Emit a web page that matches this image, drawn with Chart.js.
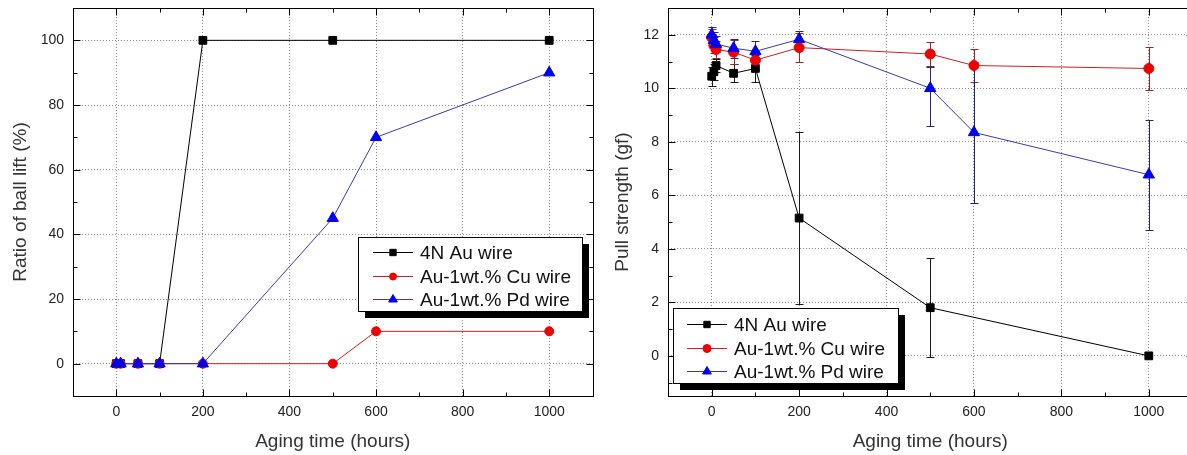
<!DOCTYPE html>
<html>
<head>
<meta charset="utf-8">
<script src="https://cdn.jsdelivr.net/npm/chart.js@4/dist/chart.umd.min.js"></script>
<style>
  body { margin: 0; background: #fff; width: 1187px; height: 455px; overflow: hidden; position: relative; }
  #ball_lift { position: absolute; left: 0; top: 0; }
  #pull_strength { position: absolute; left: 600px; top: 0; }
</style>
</head>
<body>
<canvas id="ball_lift" width="600" height="455"></canvas>
<canvas id="pull_strength" width="600" height="455"></canvas>
<script>
  // ---- data: ratio of ball lift (%) ----
  var seriesNames = ["4N Au wire", "Au-1wt.% Cu wire", "Au-1wt.% Pd wire"];

  var auLiftHours = [0, 10, 50, 100, 200, 500, 1000];
  var auLift      = [0, 0, 0, 0, 100, 100, 100];
  var cuLiftHours = [0, 10, 50, 100, 200, 500, 600, 1000];
  var cuLift      = [0, 0, 0, 0, 0, 0, 10, 10];
  var pdLiftHours = [0, 10, 50, 100, 200, 500, 600, 1000];
  var pdLift      = [0, 0, 0, 0, 0, 45, 70, 90];

  // ---- data: pull strength (gf) ----
  var auPullHours = [0, 5, 10, 50, 100, 200, 500, 1000];
  var auPull      = [10.45, 10.62, 10.85, 10.56, 10.74, 5.15, 1.8, 0];
  var auPullErr   = [0.35, 0.3, 0.25, 0.33, 0.5, 3.2, 1.85, 0];
  var cuPullHours = [0, 5, 10, 50, 100, 200, 500, 600, 1000];
  var cuPull      = [11.9, 11.6, 11.45, 11.35, 11.05, 11.52, 11.28, 10.85, 10.74];
  var cuPullErr   = [0.3, 0.3, 0.3, 0.45, 0.35, 0.55, 0.45, 0.62, 0.82];
  var pdPullHours = [0, 5, 10, 50, 100, 200, 500, 600, 1000];
  var pdPull      = [12.0, 11.8, 11.65, 11.5, 11.38, 11.83, 10.0, 8.35, 6.77];
  var pdPullErrLo = [0.3, 0.3, 0.3, 0.35, 0.4, 0.3, 1.4, 2.62, 2.05];
  var pdPullErrHi = [0.3, 0.3, 0.3, 0.35, 0.4, 0.3, 0.8, 2.62, 2.05];

  // ---- ticks ----
  var hourTicks      = [0, 200, 400, 600, 800, 1000];
  var hourMinorTicks = [100, 300, 500, 700, 900];
  var liftTicks      = [0, 20, 40, 60, 80, 100];
  var liftMinorTicks = [10, 30, 50, 70, 90];
  var pullTicks      = [0, 2, 4, 6, 8, 10, 12];
  var pullMinorTicks = [-1, 1, 3, 5, 7, 9, 11];

  function points(xs, ys) {
    return xs.map(function(x, i) { return { x: x, y: ys[i] }; });
  }

  var black = '#000000';
  var redLine = '#cc1f1f', redMark = '#ee0000', redErr = '#a82020';
  var blueLine = '#3a3aa8', blueMark = '#0000ee', blueErr = '#25257e';

  Chart.defaults.font.family = "'Liberation Sans', Arial, sans-serif";
  Chart.defaults.color = '#222';

  // frame around the plot and inward ticks on all four sides
  var frameTicks = {
    id: 'frameTicks',
    afterDraw: function(chart, args, o) {
      var ctx = chart.ctx, a = chart.chartArea;
      var xs = chart.scales.x, ys = chart.scales.y;
      var L = Math.round(a.left) + 0.5, R = Math.round(a.right) + 0.5;
      var T = Math.round(a.top) + 0.5, B = Math.round(a.bottom) + 0.5;
      ctx.save();
      ctx.strokeStyle = '#000';
      ctx.lineWidth = 1;
      ctx.beginPath();
      function xt(vals, len) {
        vals.forEach(function(v) {
          var p = Math.round(xs.getPixelForValue(v)) + 0.5;
          ctx.moveTo(p, B); ctx.lineTo(p, B - len);
          ctx.moveTo(p, T); ctx.lineTo(p, T + len);
        });
      }
      function yt(vals, len) {
        vals.forEach(function(v) {
          var p = Math.round(ys.getPixelForValue(v)) + 0.5;
          ctx.moveTo(L, p); ctx.lineTo(L + len, p);
          ctx.moveTo(R, p); ctx.lineTo(R - len, p);
        });
      }
      xt(o.xMajor, 7); xt(o.xMinor, 4);
      yt(o.yMajor, 7); yt(o.yMinor, 4);
      ctx.stroke();
      ctx.strokeRect(L, T, R - L, B - T);
      ctx.restore();
    }
  };

  var errorBars = {
    id: 'errorBars',
    beforeDatasetsDraw: function(chart) {
      var ctx = chart.ctx, xs = chart.scales.x, ys = chart.scales.y;
      chart.data.datasets.forEach(function(ds) {
        if (!ds.errMinus) return;
        ctx.save();
        ctx.strokeStyle = ds.errColor;
        ctx.lineWidth = 1;
        ctx.beginPath();
        ds.data.forEach(function(p, i) {
          var lo = ds.errMinus[i], hi = ds.errPlus[i];
          if (!lo && !hi) return;
          var px = Math.round(xs.getPixelForValue(p.x)) + 0.5;
          var y1 = Math.round(ys.getPixelForValue(p.y - lo)) + 0.5;
          var y2 = Math.round(ys.getPixelForValue(p.y + hi)) + 0.5;
          ctx.moveTo(px, y1); ctx.lineTo(px, y2);
          ctx.moveTo(px - 4, y1); ctx.lineTo(px + 4, y1);
          ctx.moveTo(px - 4, y2); ctx.lineTo(px + 4, y2);
        });
        ctx.stroke();
        ctx.restore();
      });
    }
  };

  // boxed legend with a solid drop shadow
  var boxLegend = {
    id: 'boxLegend',
    afterDraw: function(chart, args, o) {
      var ctx = chart.ctx;
      ctx.save();
      ctx.fillStyle = '#000';
      ctx.fillRect(o.x + 7, o.y + 7, o.w, o.h);
      ctx.fillStyle = '#fff';
      ctx.fillRect(o.x, o.y, o.w, o.h);
      ctx.strokeStyle = '#000';
      ctx.lineWidth = 1;
      ctx.strokeRect(o.x + 0.5, o.y + 0.5, o.w, o.h);
      var sets = chart.data.datasets.slice().sort(function(a, b) { return b.order - a.order; });
      sets.forEach(function(ds, i) {
        var y = o.rowY[i] + 0.5;
        ctx.strokeStyle = ds.borderColor;
        ctx.beginPath();
        ctx.moveTo(o.symX, y); ctx.lineTo(o.symX + 40, y);
        ctx.stroke();
        ctx.fillStyle = ds.pointBackgroundColor;
        ctx.strokeStyle = ds.pointBackgroundColor;
        Chart.helpers.drawPoint(ctx, { pointStyle: ds.pointStyle, radius: ds.legendRadius, rotation: 0, borderWidth: 1 }, o.symX + 20, y);
        ctx.fillStyle = '#111';
        ctx.font = "19px 'Liberation Sans', Arial, sans-serif";
        ctx.textBaseline = 'middle';
        ctx.fillText(seriesNames[i], o.symX + 47, y + 1);
      });
      ctx.restore();
    }
  };

  function makeSet(name, pts, line, mark, style, radius, legendRadius, order) {
    return {
      label: name,
      data: pts,
      borderColor: line,
      borderWidth: 1,
      backgroundColor: mark,
      pointBackgroundColor: mark,
      pointBorderColor: mark,
      pointStyle: style,
      pointRadius: radius,
      legendRadius: legendRadius,
      lineTension: 0,
      order: order
    };
  }

  function noPad(s) {
    s.paddingLeft = 0; s.paddingRight = 0; s.paddingTop = 0; s.paddingBottom = 0;
  }

  function axes(xMin, xMax, yMin, yMax, yTicks, yTitle, yWidth, yTitlePad) {
    var grid = { color: '#8c8c8c', drawTicks: false, lineWidth: 1 };
    return {
      x: {
        type: 'linear', min: xMin, max: xMax,
        afterBuildTicks: function(s) { s.ticks = hourTicks.map(function(v) { return { value: v }; }); },
        afterFit: function(s) { s.height = 59; noPad(s); },
        grid: grid,
        border: { display: false, dash: [1, 2] },
        ticks: { padding: 8, font: { size: 14 }, color: '#222', callback: function(v) { return String(v); } },
        title: { display: true, text: 'Aging time (hours)', font: { size: 19 }, color: '#333', padding: { top: 2, bottom: 2 } }
      },
      y: {
        type: 'linear', min: yMin, max: yMax,
        afterBuildTicks: function(s) { s.ticks = yTicks.map(function(v) { return { value: v }; }); },
        afterFit: function(s) { s.width = yWidth; noPad(s); },
        grid: grid,
        border: { display: false, dash: [1, 2] },
        ticks: { padding: 9, font: { size: 14 }, color: '#222', callback: function(v) { return String(v); } },
        title: { display: true, text: yTitle, font: { size: 19 }, color: '#333', padding: { top: yTitlePad, bottom: 0 } }
      }
    };
  }

  var ballLiftChart = document.getElementById("ball_lift");
  var ballLift = new Chart(ballLiftChart, {
    type: 'line',
    plugins: [errorBars, frameTicks, boxLegend],
    data: {
      datasets: [
        makeSet(seriesNames[0], points(auLiftHours, auLift), black, black, 'rect', 5.5, 4.5, 3),
        makeSet(seriesNames[1], points(cuLiftHours, cuLift), redLine, redMark, 'circle', 4.5, 3.5, 2),
        makeSet(seriesNames[2], points(pdLiftHours, pdLift), blueLine, blueMark, 'triangle', 6.5, 5, 1)
      ]
    },
    options: {
      responsive: false,
      animation: false,
      layout: { padding: { left: 0, top: 8, right: -2, bottom: 0 } },
      scales: axes(-100, 1100, -10, 110, liftTicks, 'Ratio of ball lift (%)', 73, 9),
      plugins: {
        legend: { display: false },
        tooltip: { enabled: false },
        frameTicks: { xMajor: hourTicks, xMinor: hourMinorTicks, yMajor: liftTicks, yMinor: liftMinorTicks },
        boxLegend: { x: 358, y: 237, w: 224, h: 74, symX: 373, rowY: [252, 276, 299] }
      }
    }
  });

  var auErrSet = makeSet(seriesNames[0], points(auPullHours, auPull), black, black, 'rect', 5.5, 4.5, 3);
  auErrSet.errMinus = auPullErr; auErrSet.errPlus = auPullErr; auErrSet.errColor = '#1a1a1a';
  var cuErrSet = makeSet(seriesNames[1], points(cuPullHours, cuPull), redLine, redMark, 'circle', 5, 4, 2);
  cuErrSet.errMinus = cuPullErr; cuErrSet.errPlus = cuPullErr; cuErrSet.errColor = redErr;
  var pdErrSet = makeSet(seriesNames[2], points(pdPullHours, pdPull), blueLine, blueMark, 'triangle', 6.5, 5, 1);
  pdErrSet.errMinus = pdPullErrLo; pdErrSet.errPlus = pdPullErrHi; pdErrSet.errColor = blueErr;

  var pullChart = document.getElementById("pull_strength");
  var pull = new Chart(pullChart, {
    type: 'line',
    plugins: [errorBars, frameTicks, boxLegend],
    data: { datasets: [auErrSet, cuErrSet, pdErrSet] },
    options: {
      responsive: false,
      animation: false,
      layout: { padding: { left: 0, top: 8, right: -1, bottom: 0 } },
      scales: axes(-100, 1100, -1.5, 13, pullTicks, 'Pull strength (gf)', 68, 11),
      plugins: {
        legend: { display: false },
        tooltip: { enabled: false },
        frameTicks: { xMajor: hourTicks, xMinor: hourMinorTicks, yMajor: pullTicks, yMinor: pullMinorTicks },
        boxLegend: { x: 73, y: 308, w: 225, h: 75, symX: 87, rowY: [324, 348, 371] }
      }
    }
  });
</script>
</body>
</html>
